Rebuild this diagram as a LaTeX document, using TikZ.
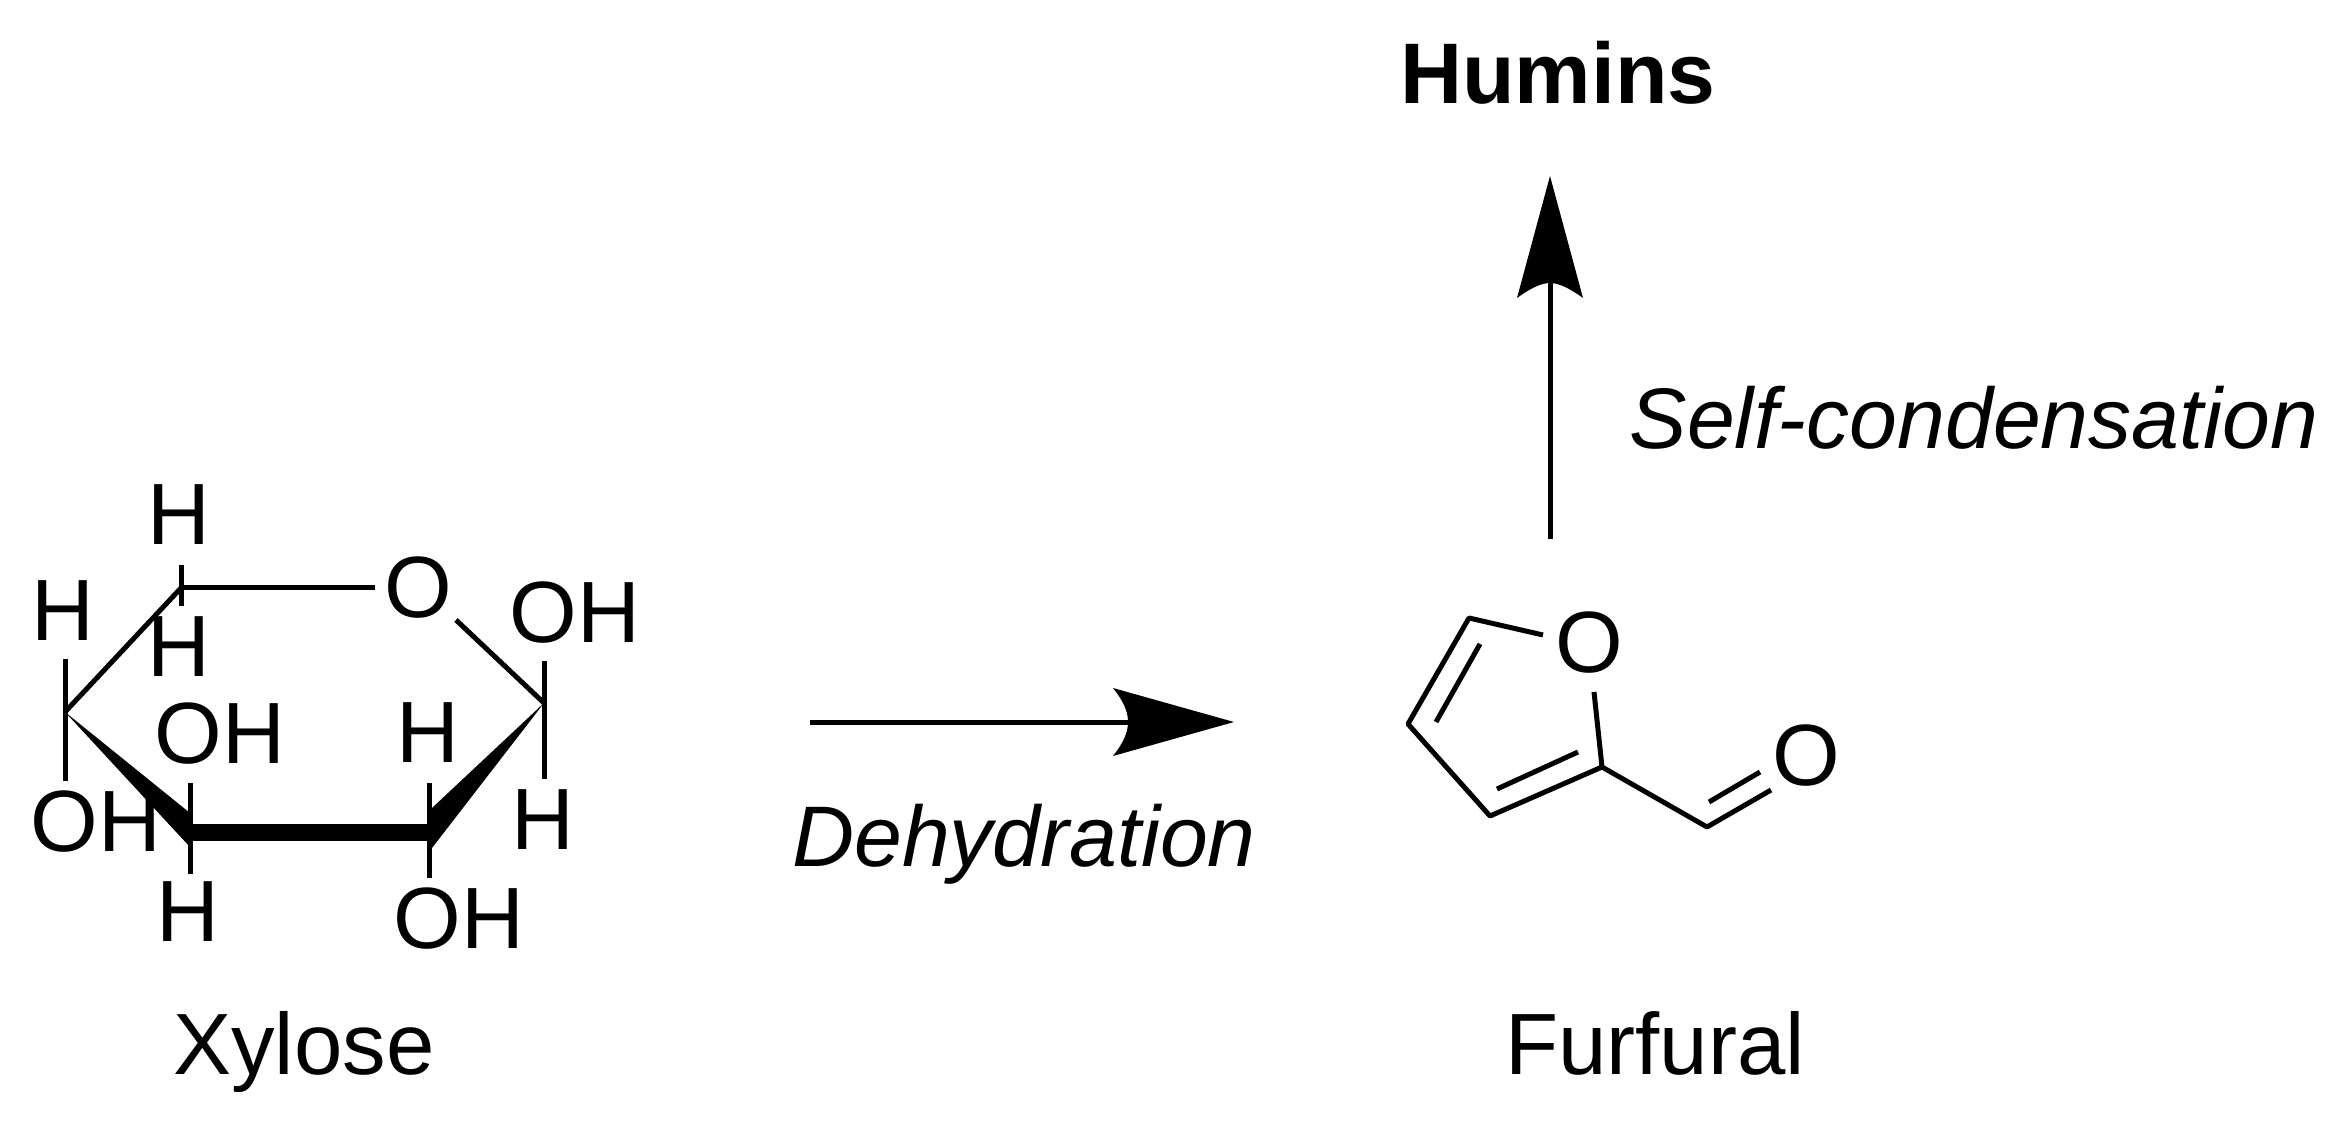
\documentclass[tikz,border=0pt]{standalone}
\usepackage{fontspec}
\setmainfont{Liberation Sans}
\begin{document}
\begin{tikzpicture}[x=0.5pt,y=-0.5pt,
 lbl/.style={inner sep=0pt,font=\fontsize{43.5}{44}\selectfont},
 rxnlabel/.style={inner sep=0pt,anchor=base,font=\fontsize{43}{44}\selectfont\itshape},
 bond/.style={line width=2.5pt,black},
 rxn/.style={line width=2.5pt,black}]
\useasboundingbox (0,0) rectangle (2335,1122);
% xylose ring and stub ends
\coordinate (c1) at (181,588);
\coordinate (c2) at (65,712);
\coordinate (c3) at (190,832);
\coordinate (c4) at (429,832);
\coordinate (c5) at (544,703);
\coordinate (c1a) at (181,565);
\coordinate (c1b) at (181,606);
\coordinate (c2a) at (65,659);
\coordinate (c2b) at (65,781);
\coordinate (c5a) at (544,661);
\coordinate (c5b) at (544,779);
\coordinate (c3a) at (190,783);
\coordinate (c3b) at (190,874);
\coordinate (c4a) at (429,783);
\coordinate (c4b) at (429,878);
\coordinate (oe) at (375,588);
\coordinate (os) at (456,620);
\node[lbl] (o) at (418,588) {O};
\node[lbl] (ha) at (179,515) {H};
\node[lbl] (hb) at (179,647) {H};
\node[lbl] (hc) at (63,611) {H};
\node[lbl] (oha) at (575,613) {OH};
\node[lbl] (ohb) at (220,734) {OH};
\node[lbl] (ohc) at (96,822) {OH};
\node[lbl] (hd) at (428,733) {H};
\node[lbl] (he) at (543,820) {H};
\node[lbl] (hf) at (188,912) {H};
\node[lbl] (ohd) at (459,919) {OH};
\node[lbl,anchor=base] (xy) at (304,1074) {Xylose};
\draw[bond] (c1) -- (oe);
\draw[bond] (c1) -- (c2);
\draw[bond] (os) -- (c5);
\draw[bond] (c1a) -- (c1b);
\draw[bond] (c2a) -- (c2b);
\draw[bond] (c5a) -- (c5b);
\draw[bond] (c3a) -- (c3b);
\draw[bond] (c4a) -- (c4b);
\fill (c2) -- (190,813) -- (190,847) -- cycle;
\fill (c5) -- (432,808) -- (429,808) -- (429,848) -- (432,848) -- cycle;
\draw[line width=8.5pt] (c3) -- (c4);
% reaction arrows
\coordinate (ra) at (810,722);
\coordinate (rb) at (1234,722);
\coordinate (rc) at (1140,722);
\draw[rxn] (ra) -- (rc);
\fill (rb) -- (1113,688) .. controls (1124,702) and (1128,712) .. (1128,722)
  .. controls (1128,732) and (1124,742) .. (1113,756) -- cycle;
\coordinate (ua) at (1550,539);
\coordinate (ub) at (1550,176);
\coordinate (uc) at (1550,270);
\draw[rxn] (ua) -- (uc);
\fill (ub) -- (1517,298) .. controls (1528,290) and (1540,283) .. (1550,283)
  .. controls (1560,283) and (1572,290) .. (1583,298) -- cycle;
\node[rxnlabel] (de) at (1024,866) {Dehydration};
\node[rxnlabel] (se) at (1974,449) {Self-condensation};
\node[inner sep=0pt,anchor=base,font=\fontsize{43}{44}\selectfont\bfseries] (hu) at (1558,104) {Humins};
\node[lbl,anchor=base] (fu) at (1655,1074) {Furfural};
% furfural
\coordinate (f1) at (1469,618);
\coordinate (f2) at (1408,724);
\coordinate (f3) at (1490,816);
\coordinate (f4) at (1602,767);
\coordinate (f5) at (1707,827);
\coordinate (f6) at (1543,635);
\coordinate (f7) at (1594,692);
\coordinate (f8) at (1771,790);
\coordinate (d1) at (1480,644);
\coordinate (d2) at (1436,722);
\coordinate (d3) at (1497,789);
\coordinate (d4) at (1578,752);
\coordinate (d5) at (1709,802);
\coordinate (d6) at (1760,772);
\node[lbl] (fo) at (1589,643) {O};
\node[lbl] (fp) at (1806,756) {O};
\draw[bond,line join=round] (f6) -- (f1) -- (f2) -- (f3) -- (f4) -- (f7);
\draw[bond,line join=round] (f4) -- (f5) -- (f8);
\draw[bond] (d1) -- (d2);
\draw[bond] (d3) -- (d4);
\draw[bond] (d5) -- (d6);
\end{tikzpicture}
\end{document}
